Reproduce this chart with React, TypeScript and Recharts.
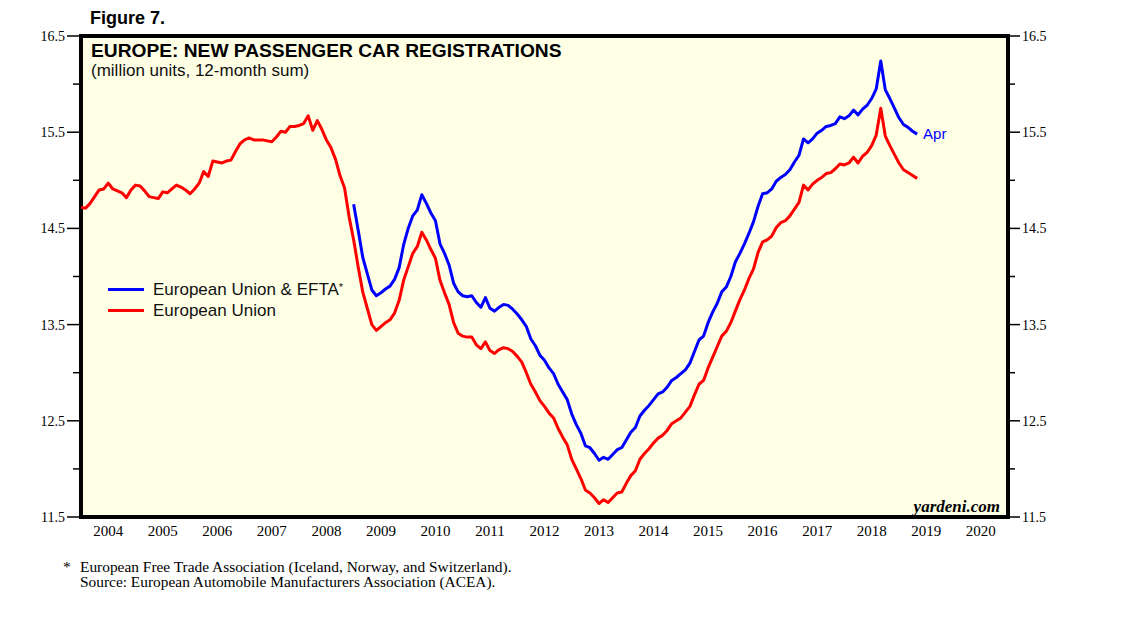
import {
  LineChart,
  Line,
  XAxis,
  YAxis,
  CartesianGrid,
  ReferenceArea,
  ReferenceDot,
  Legend
} from "recharts"

const SANS = "'Liberation Sans', Arial, sans-serif"
const SERIF = "'Liberation Serif', 'Times New Roman', serif"

// monthly points, first one sits on the left frame (start of 2004)
const startYear = 2004

const euUnits = [
  14.72, 14.71, 14.76, 14.83, 14.90, 14.91, 14.97, 14.91, 14.89, 14.87,
  14.82, 14.90, 14.95, 14.94, 14.89, 14.83, 14.82, 14.81, 14.88, 14.87,
  14.91, 14.95, 14.93, 14.90, 14.86, 14.91, 14.97, 15.09, 15.04, 15.20,
  15.19, 15.18, 15.20, 15.21, 15.30, 15.38, 15.42, 15.44, 15.42, 15.42,
  15.42, 15.41, 15.40, 15.45, 15.51, 15.50, 15.56, 15.56, 15.57, 15.59,
  15.67, 15.52, 15.62, 15.53, 15.42, 15.34, 15.22, 15.05, 14.92, 14.62,
  14.38, 14.10, 13.84, 13.67, 13.50, 13.44, 13.48, 13.52, 13.55, 13.62,
  13.75, 13.96, 14.10, 14.24, 14.31, 14.46, 14.38, 14.28, 14.19, 13.96,
  13.83, 13.71, 13.52, 13.41, 13.38, 13.37, 13.37, 13.29, 13.25, 13.32,
  13.23, 13.20, 13.24, 13.26, 13.25, 13.22, 13.17, 13.11, 13.00, 12.88,
  12.80, 12.71, 12.65, 12.58, 12.53, 12.42, 12.33, 12.25, 12.10, 12.00,
  11.90, 11.78, 11.75, 11.70, 11.64, 11.68, 11.65, 11.70, 11.75, 11.76,
  11.85, 11.93, 11.98, 12.10, 12.16, 12.21, 12.27, 12.32, 12.35, 12.40,
  12.47, 12.50, 12.53, 12.59, 12.65, 12.77, 12.88, 12.92, 13.05, 13.16,
  13.27, 13.38, 13.43, 13.52, 13.64, 13.76, 13.86, 13.98, 14.08, 14.25,
  14.36, 14.38, 14.42, 14.51, 14.56, 14.58, 14.63, 14.70, 14.77, 14.95,
  14.90, 14.96, 15.00, 15.03, 15.07, 15.08, 15.12, 15.17, 15.16, 15.18,
  15.24, 15.18, 15.25, 15.29, 15.36, 15.47, 15.75, 15.46, 15.36, 15.27,
  15.18, 15.11, 15.08, 15.05, 15.02
]

// EU + EFTA series only starts at the end of 2008
const eftaFirst = 60
const eftaUnits = [
  14.75, 14.48, 14.20, 14.03, 13.86, 13.80, 13.83, 13.87, 13.90, 13.97,
  14.09, 14.33, 14.50, 14.63, 14.69, 14.85, 14.76, 14.66, 14.58, 14.34,
  14.24, 14.12, 13.93, 13.84, 13.80, 13.79, 13.80, 13.73, 13.68, 13.78,
  13.67, 13.64, 13.68, 13.71, 13.70, 13.66, 13.61, 13.55, 13.48, 13.35,
  13.28, 13.18, 13.13, 13.05, 12.99, 12.88, 12.80, 12.72, 12.57, 12.46,
  12.37, 12.24, 12.22, 12.16, 12.09, 12.12, 12.10, 12.15, 12.20, 12.22,
  12.30, 12.38, 12.43, 12.55, 12.61, 12.66, 12.72, 12.78, 12.80, 12.85,
  12.92, 12.95, 12.99, 13.03, 13.10, 13.22, 13.34, 13.38, 13.52, 13.63,
  13.72, 13.84, 13.89, 14.00, 14.15, 14.24, 14.34, 14.45, 14.57, 14.73,
  14.86, 14.87, 14.91, 14.99, 15.03, 15.06, 15.11, 15.19, 15.26, 15.43,
  15.39, 15.43, 15.49, 15.52, 15.56, 15.57, 15.59, 15.66, 15.64, 15.67,
  15.73, 15.68, 15.74, 15.78, 15.85, 15.95, 16.24, 15.94, 15.85, 15.75,
  15.65, 15.58, 15.55, 15.51, 15.48
]

const seriesNames = ["European Union & EFTA*", "European Union"]
const yTicks = [11.5, 12, 12.5, 13, 13.5, 14, 14.5, 15, 15.5, 16, 16.5]
const yearTicks = [
  2004, 2005, 2006, 2007, 2008, 2009, 2010, 2011, 2012,
  2013, 2014, 2015, 2016, 2017, 2018, 2019, 2020, 2021
]
const yearLabels = yearTicks.slice(0, -1)

const data = euUnits.map((eu, i) => ({
  t: startYear + i / 12,
  eu,
  efta: i >= eftaFirst ? eftaUnits[i - eftaFirst] : null
}))
const last = data[data.length - 1]

const isMajor = (v: number) => Math.round(v * 2) % 2 === 1

const LeftTick = ({ x, y, payload }: any) => {
  const major = isMajor(payload.value)
  return (
    <g>
      <line x1={x - (major ? 14 : 8)} x2={x} y1={y} y2={y} stroke="#000" strokeWidth={1.5} />
      {major && (
        <text x={x - 16} y={y} dy="0.35em" textAnchor="end" fontSize={14} fontFamily={SERIF} fill="#000">
          {payload.value.toFixed(1)}
        </text>
      )}
    </g>
  )
}

const RightTick = ({ x, y, payload }: any) => {
  const major = isMajor(payload.value)
  return (
    <g>
      <line x1={x} x2={x + (major ? 12 : 7)} y1={y} y2={y} stroke="#000" strokeWidth={1.5} />
      {major && (
        <text x={x + 14} y={y} dy="0.35em" textAnchor="start" fontSize={14} fontFamily={SERIF} fill="#000">
          {payload.value.toFixed(1)}
        </text>
      )}
    </g>
  )
}

const LegendBox = ({ payload }: any) => {
  const items = [...(payload || [])].sort(
    (a: any, b: any) => seriesNames.indexOf(String(a.value)) - seriesNames.indexOf(String(b.value))
  )
  return (
    <div style={{ fontFamily: SANS, fontSize: 17, color: "#111" }}>
      {items.map((p: any) => {
        const name = String(p.value)
        const star = name.endsWith("*")
        return (
          <div key={name} style={{ display: "flex", alignItems: "center", height: 21, whiteSpace: "nowrap" }}>
            <span style={{ display: "inline-block", width: 36, height: 3, background: p.color, marginRight: 9 }} />
            <span>
              {star ? name.slice(0, -1) : name}
              {star && <span style={{ fontSize: 11, verticalAlign: "top", lineHeight: "14px" }}>*</span>}
            </span>
          </div>
        )
      })}
    </div>
  )
}

export default function App() {
  return (
    <div style={{ position: "absolute", left: 0, top: 0, width: 1138, height: 621, background: "#fff" }}>
      <LineChart
        width={1138}
        height={621}
        data={data}
        margin={{ top: 36, right: 70, left: 21, bottom: 74 }}
      >
        <CartesianGrid xAxisId="ticks" yAxisId="left" horizontal={false} vertical={false} fill="#FFFFE6" />
        <XAxis
          xAxisId="ticks"
          dataKey="t"
          type="number"
          domain={[2004, 2021]}
          ticks={yearTicks}
          interval={0}
          allowDataOverflow
          axisLine={false}
          tick={false}
          tickSize={12}
          tickLine={{ stroke: "#000", strokeWidth: 2 }}
          height={1}
        />
        <XAxis
          xAxisId="labels"
          dataKey="t"
          type="number"
          domain={[2004, 2021]}
          ticks={yearLabels.map((y) => y + 0.5)}
          tickFormatter={(v: number) => String(Math.floor(v))}
          interval={0}
          allowDataOverflow
          axisLine={false}
          tickLine={false}
          tickSize={0}
          tickMargin={8}
          tick={{ fontSize: 15, fontFamily: SERIF, fill: "#000" }}
          height={29}
        />
        <YAxis
          yAxisId="left"
          type="number"
          domain={[11.5, 16.5]}
          ticks={yTicks}
          interval={0}
          allowDataOverflow
          axisLine={false}
          tickLine={false}
          tickSize={0}
          tickMargin={0}
          tick={<LeftTick />}
          width={60}
        />
        <YAxis
          yAxisId="right"
          orientation="right"
          type="number"
          domain={[11.5, 16.5]}
          ticks={yTicks}
          interval={0}
          allowDataOverflow
          axisLine={false}
          tickLine={false}
          tickSize={0}
          tickMargin={0}
          tick={<RightTick />}
          width={60}
        />
        <Line
          xAxisId="ticks"
          yAxisId="left"
          type="linear"
          dataKey="efta"
          name={seriesNames[0]}
          stroke="#0000FF"
          strokeWidth={3}
          strokeLinejoin="round"
          dot={false}
          isAnimationActive={false}
        />
        <Line
          xAxisId="ticks"
          yAxisId="left"
          type="linear"
          dataKey="eu"
          name={seriesNames[1]}
          stroke="#FF0000"
          strokeWidth={3}
          strokeLinejoin="round"
          dot={false}
          isAnimationActive={false}
        />
        <ReferenceDot
          xAxisId="ticks"
          yAxisId="left"
          x={last.t}
          y={last.efta as number}
          r={0}
          fill="none"
          stroke="none"
          label={{ value: "Apr", position: "right", offset: 6, fill: "#0000FF", fontSize: 15, fontFamily: SANS }}
        />
        <ReferenceArea
          xAxisId="ticks"
          yAxisId="left"
          x1={2004}
          x2={2021}
          y1={11.5}
          y2={16.5}
          fill="none"
          fillOpacity={0}
          stroke="#000"
          strokeWidth={4}
        />
        <Legend
          layout="vertical"
          align="center"
          verticalAlign="middle"
          content={<LegendBox />}
          wrapperStyle={{ left: 108, top: 279, width: 300 }}
        />
      </LineChart>
      <svg
        width={1138}
        height={621}
        style={{ position: "absolute", left: 0, top: 0, pointerEvents: "none" }}
      >
        <text x={90} y={24} fontFamily={SANS} fontWeight="bold" fontSize={18} fill="#000">
          Figure 7.
        </text>
        <text x={91} y={57} fontFamily={SANS} fontWeight="bold" fontSize={19.2} fill="#000">
          EUROPE: NEW PASSENGER CAR REGISTRATIONS
        </text>
        <text x={91} y={76} fontFamily={SANS} fontSize={17} fill="#111">
          (million units, 12-month sum)
        </text>
        <text x={1000} y={512} textAnchor="end" fontFamily={SERIF} fontWeight="bold" fontStyle="italic" fontSize={17} fill="#000">
          yardeni.com
        </text>
        <text x={63} y={572} fontFamily={SERIF} fontSize={15.4} fill="#000">*</text>
        <text x={80} y={572} fontFamily={SERIF} fontSize={15.4} fill="#000">
          European Free Trade Association (Iceland, Norway, and Switzerland).
        </text>
        <text x={80} y={587} fontFamily={SERIF} fontSize={15.4} fill="#000">
          Source: European Automobile Manufacturers Association (ACEA).
        </text>
      </svg>
    </div>
  )
}
